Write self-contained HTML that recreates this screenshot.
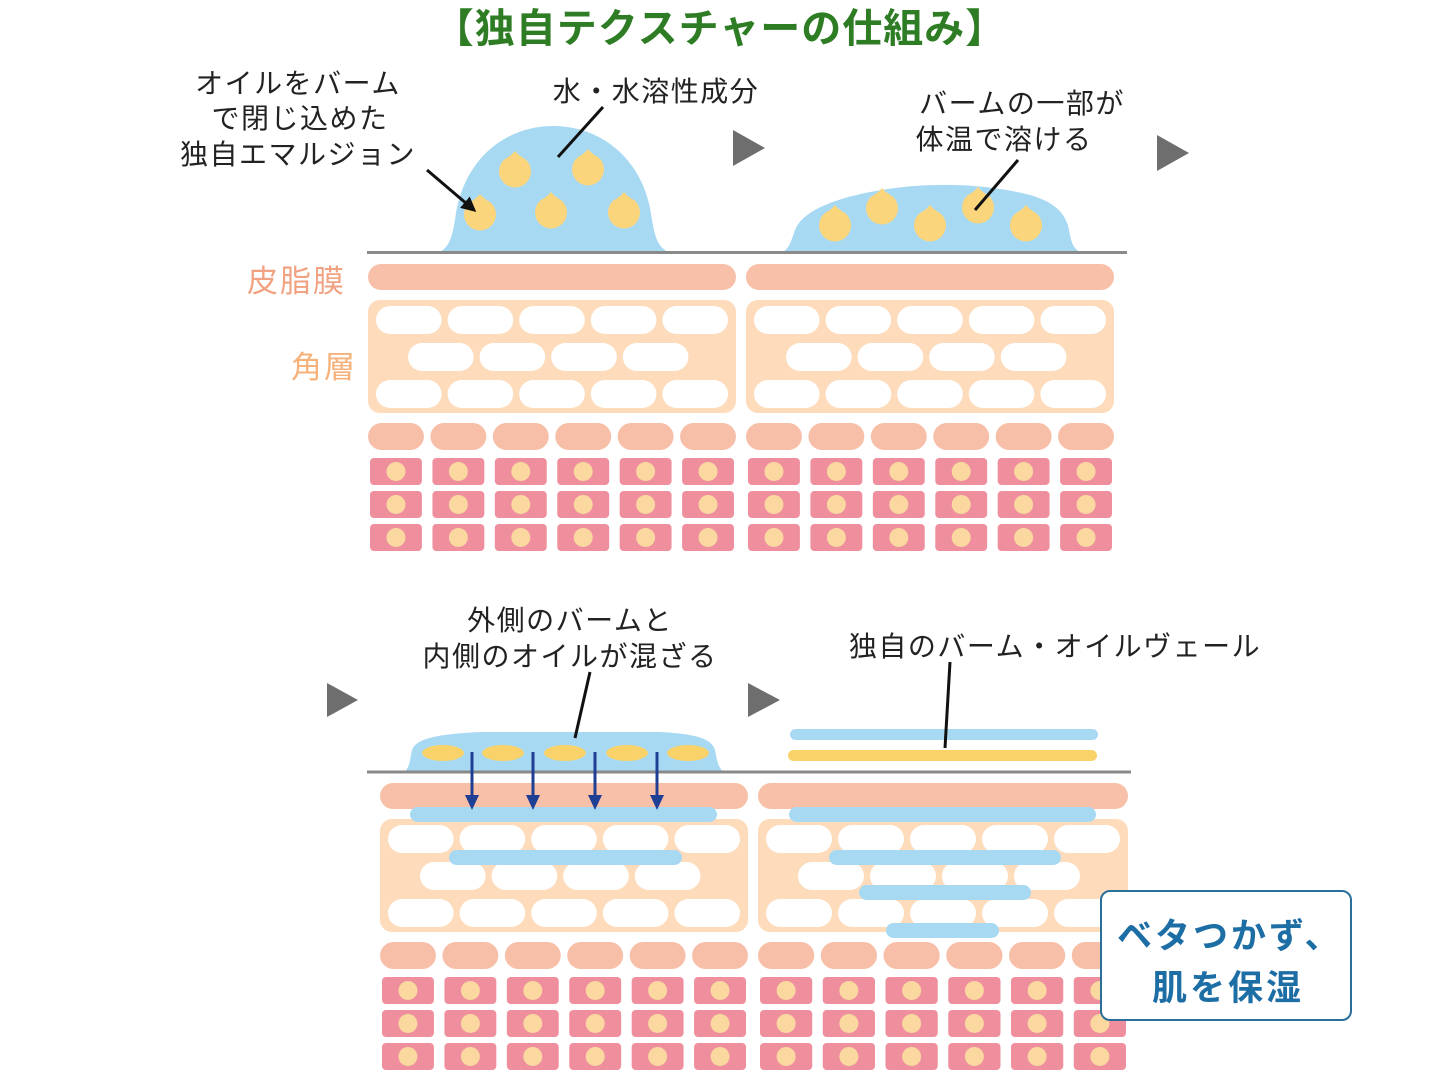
<!DOCTYPE html>
<html><head><meta charset="utf-8">
<style>
html,body{margin:0;padding:0;background:#fff;width:1440px;height:1080px;overflow:hidden}
svg text{font-family:"Liberation Sans","Noto Sans CJK JP",sans-serif}
</style></head>
<body>
<svg id="s" width="1440" height="1080" viewBox="0 0 1440 1080" xmlns="http://www.w3.org/2000/svg">
<defs>
<marker id="ah" viewBox="0 0 10 10" refX="8" refY="5" markerWidth="5" markerHeight="5" orient="auto"><path d="M0,0 L10,5 L0,10 z" fill="#111"/></marker>
</defs>
<text x="720" y="42" text-anchor="middle" font-size="40" font-weight="bold" fill="#2e7d24" letter-spacing="1">【独自テクスチャーの仕組み】</text>

<!-- labels -->
<g font-size="28" fill="#222" text-anchor="middle" letter-spacing="1.5">
<text x="298" y="93">オイルをバーム</text>
<text x="300" y="128">で閉じ込めた</text>
<text x="298" y="164">独自エマルジョン</text>
<text x="656" y="101">水・水溶性成分</text>
<text x="1022" y="113">バームの一部が</text>
<text x="1004" y="149">体温で溶ける</text>
<text x="570" y="630">外側のバームと</text>
<text x="570" y="666">内側のオイルが混ざる</text>
<text x="1055" y="656">独自のバーム・オイルヴェール</text>
</g>
<text x="247" y="292" font-size="31" fill="#f0a283" letter-spacing="2">皮脂膜</text>
<text x="291" y="378" font-size="31" fill="#f6b27a" letter-spacing="2">角層</text>

<!-- gray arrows -->
<g fill="#6e6e6e">
<path d="M733,130 L765,148 L733,166 z"/>
<path d="M1157,135 L1189,153 L1157,171 z"/>
<path d="M327,683 L358,700 L327,717 z"/>
<path d="M748,683 L780,700 L748,717 z"/>
</g>

<!-- domes -->
<path d="M440,252 C450,246 452,236 455,220 C462,160 505,126 553,126 C602,126 645,160 652,220 C655,236 657,246 668,252 Z" fill="#a8d9f3"/>
<path d="M783,252 C790,248 792,238 795,230 C802,212 830,200 870,192 C920,182 980,182 1030,195 C1062,204 1068,220 1070,235 C1072,246 1076,250 1080,252 Z" fill="#a8d9f3"/>
<path d="M404,772 C410,768 410,758 412,750 C416,738 440,734 480,732 L660,732 C700,734 712,740 715,750 C717,760 718,768 724,772 Z" fill="#a8d9f3"/>

<g id="drops" fill="#fad57b"></g>

<!-- ellipses -->
<g fill="#f9d36a">
<ellipse cx="443" cy="753" rx="21" ry="8"/><ellipse cx="503" cy="753" rx="21" ry="8"/><ellipse cx="565" cy="753" rx="21" ry="8"/><ellipse cx="627" cy="753" rx="21" ry="8"/><ellipse cx="688" cy="753" rx="21" ry="8"/>
</g>

<!-- surface lines -->
<line x1="367" y1="252.5" x2="1127" y2="252.5" stroke="#8a8a8a" stroke-width="3"/>
<line x1="367" y1="772" x2="1131" y2="772" stroke="#8a8a8a" stroke-width="3"/>

<g id="skin"></g>

<!-- veil lines -->
<rect x="790" y="729" width="308" height="11" rx="5.5" fill="#a8d9f3"/>
<rect x="788" y="750" width="309" height="11" rx="5.5" fill="#f9d36a"/>

<g id="bars" fill="#a8d9f3">
<rect x="410" y="807" width="307" height="15" rx="7.5"/>
<rect x="449" y="850" width="233" height="15" rx="7.5"/>
<rect x="789" y="807" width="307" height="15" rx="7.5"/>
<rect x="829" y="850" width="232" height="15" rx="7.5"/>
<rect x="859" y="885" width="172" height="15" rx="7.5"/>
<rect x="886" y="923" width="113" height="15" rx="7.5"/>
</g>

<!-- blue arrows -->
<g stroke="#1f3f95" stroke-width="3" fill="#1f3f95">
<line x1="472" y1="752" x2="472" y2="798"/><path d="M465,795 L479,795 L472,810 z" stroke="none"/>
<line x1="533" y1="752" x2="533" y2="798"/><path d="M526,795 L540,795 L533,810 z" stroke="none"/>
<line x1="595" y1="752" x2="595" y2="798"/><path d="M588,795 L602,795 L595,810 z" stroke="none"/>
<line x1="657" y1="752" x2="657" y2="798"/><path d="M650,795 L664,795 L657,810 z" stroke="none"/>
</g>

<!-- leader lines -->
<g stroke="#111" stroke-width="3">
<line x1="427" y1="170" x2="474" y2="210" marker-end="url(#ah)"/>
<line x1="603" y1="107" x2="558" y2="157"/>
<line x1="1018" y1="160" x2="975" y2="210"/>
<line x1="590" y1="672" x2="575" y2="738"/>
<line x1="950" y1="662" x2="945" y2="748"/>
</g>

<!-- callout -->
<rect x="1101" y="891" width="250" height="129" rx="9" fill="#fff" stroke="#2a6f9c" stroke-width="2"/>
<text x="1117" y="948" font-size="35" font-weight="bold" fill="#1e6ea6" letter-spacing="3">ベタつかず、</text>
<text x="1152" y="1000" font-size="35" font-weight="bold" fill="#1e6ea6" letter-spacing="3">肌を保湿</text>
</svg>
<script>
var NS="http://www.w3.org/2000/svg";
function el(p,t,a){var e=document.createElementNS(NS,t);for(var k in a)e.setAttribute(k,a[k]);p.appendChild(e);return e;}
var skin=document.getElementById('skin');
function block(x0,y0,w){
 el(skin,'rect',{x:x0,y:y0,width:w,height:26,rx:13,fill:'#f8c0a8'});
 var hy=y0+36;
 el(skin,'rect',{x:x0,y:hy,width:w,height:113,rx:12,fill:'#fddbbb'});
 var pw=(w-16-4*6)/5;
 for(var i=0;i<5;i++){
  el(skin,'rect',{x:x0+8+i*(pw+6),y:hy+6,width:pw,height:28,rx:14,fill:'#fff'});
  el(skin,'rect',{x:x0+8+i*(pw+6),y:hy+80,width:pw,height:28,rx:14,fill:'#fff'});
 }
 for(var i=0;i<4;i++){
  el(skin,'rect',{x:x0+40+i*(pw+6),y:hy+43,width:pw,height:28,rx:14,fill:'#fff'});
 }
 var sy=hy+123;
 var cw=(w-5*6.5)/6;
 for(var i=0;i<6;i++){
  var cx=x0+i*(cw+6.5);
  el(skin,'rect',{x:cx,y:sy,width:cw,height:27,rx:13.5,fill:'#f8bfa8'});
  for(var r=0;r<3;r++){
   var ry=sy+35+r*33;
   el(skin,'rect',{x:cx+2,y:ry,width:cw-4,height:27,rx:4,fill:'#ef8f9e'});
   el(skin,'circle',{cx:cx+cw/2,cy:ry+13.5,r:9.5,fill:'#fad8a0'});
  }
 }
}
block(368,264,368);
block(746,264,368);
block(380,783,368);
block(758,783,370);
var d=document.getElementById('drops');
[[515,172],[588,170],[480,215],[551,213],[624,213],[835,226],[882,209],[930,226],[978,208],[1026,226]].forEach(function(p){
 var x=p[0],y=p[1],r=16;
 el(d,'path',{d:'M'+(x)+','+(y-r-5)+' Q'+(x+4)+','+(y-r)+' '+(x+10)+','+(y-r+3)+' A'+r+','+r+' 0 1 1 '+(x-10)+','+(y-r+3)+' Q'+(x-4)+','+(y-r)+' '+x+','+(y-r-5)+' z'});
});
</script>
</body></html>
